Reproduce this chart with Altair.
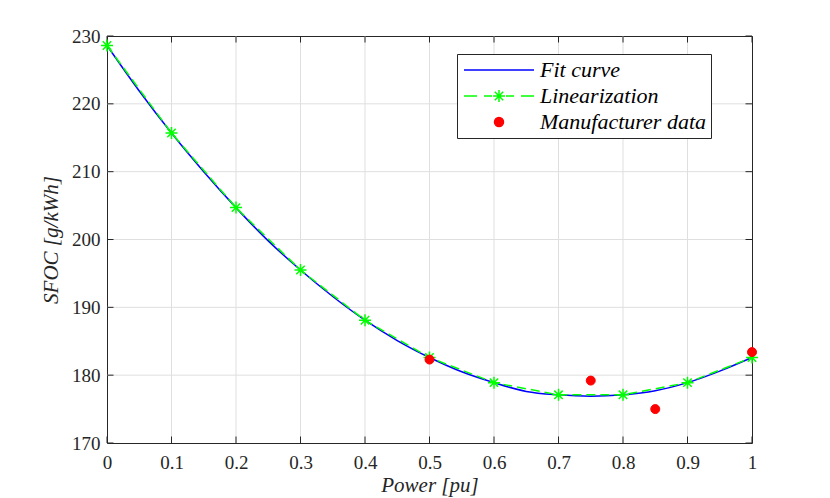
import altair as alt
import pandas as pd

# ---- data ----
fit_power = [0.0, 0.05, 0.1, 0.15, 0.2, 0.25, 0.3, 0.35, 0.4, 0.45, 0.5,
             0.55, 0.6, 0.65, 0.7, 0.75, 0.8, 0.85, 0.9, 0.95, 1.0]
fit_sfoc = [228.6, 221.9, 215.7, 210.0, 204.7, 199.8, 195.5, 191.6, 188.1, 185.1, 182.6,
            180.5, 178.9, 177.6, 177.1, 176.9, 177.1, 177.7, 178.9, 180.6, 182.6]

lin_power = [0.0, 0.1, 0.2, 0.3, 0.4, 0.5, 0.6, 0.7, 0.8, 0.9, 1.0]
lin_sfoc = [228.6, 215.7, 204.7, 195.5, 188.1, 182.6, 178.9, 177.1, 177.1, 178.9, 182.6]

mfr_power = [0.5, 0.75, 0.85, 1.0]
mfr_sfoc = [182.3, 179.2, 175.0, 183.4]

x_ticks = [0.0, 0.1, 0.2, 0.3, 0.4, 0.5, 0.6, 0.7, 0.8, 0.9, 1.0]
y_ticks = [170, 180, 190, 200, 210, 220, 230]

series_names = ["Fit curve", "Linearization", "Manufacturer data"]
series_colors = ["#0000ff", "#00ff00", "#ff0000"]

# ---- style ----
W, H = 645, 407
SERIF = "Liberation Serif, Times New Roman, serif"
INK = "#262626"
GRID = "#dfdfdf"
TICK_LEN = 6.5

fit_df = pd.DataFrame({"power": fit_power, "sfoc": fit_sfoc})
lin_df = pd.DataFrame({"power": lin_power, "sfoc": lin_sfoc})
mfr_df = pd.DataFrame({"power": mfr_power, "sfoc": mfr_sfoc,
                       "series": ["Manufacturer data"] * len(mfr_power)})
xt_df = pd.DataFrame({"t": x_ticks})
yt_df = pd.DataFrame({"t": y_ticks})
xg_df = pd.DataFrame({"t": x_ticks[1:-1]})
yg_df = pd.DataFrame({"t": y_ticks[1:-1]})

xs = alt.Scale(domain=[0, 1], nice=False, zero=False)
ys = alt.Scale(domain=[170, 230], nice=False, zero=False)

x_axis = alt.Axis(values=x_ticks, format=".1~f", title="Power [pu]", grid=False, domain=False,
                  ticks=False, tickSize=0, labelFont=SERIF, labelFontSize=19,
                  labelColor=INK, labelBaseline="alphabetic", labelPadding=25,
                  labelFlush=False, labelOverlap=False,
                  titleFont=SERIF, titleFontSize=21, titleFontStyle="italic",
                  titleFontWeight="normal", titleColor=INK,
                  titleBaseline="alphabetic", titleY=48)
y_axis = alt.Axis(values=y_ticks, format="d", title="SFOC [g/kWh]", grid=False, domain=False,
                  ticks=False, tickSize=0, labelFont=SERIF, labelFontSize=19,
                  labelColor=INK, labelPadding=7, labelFlush=False, labelOverlap=False,
                  titleFont=SERIF, titleFontSize=21, titleFontStyle="italic",
                  titleFontWeight="normal", titleColor=INK,
                  titleBaseline="alphabetic", titleAngle=270, titleX=-50, titleY=H / 2)

X = alt.X("power:Q", scale=xs, axis=x_axis)
Y = alt.Y("sfoc:Q", scale=ys, axis=y_axis)
XT = alt.X("t:Q", scale=xs, axis=x_axis)
YT = alt.Y("t:Q", scale=ys, axis=y_axis)

# grid
xgrid = alt.Chart(xg_df).mark_rule(color=GRID, strokeWidth=1).encode(
    x=XT, y=alt.value(0), y2=alt.value(H))
ygrid = alt.Chart(yg_df).mark_rule(color=GRID, strokeWidth=1).encode(
    y=YT, x=alt.value(0), x2=alt.value(W))

# inward ticks on all four sides
xt_bot = alt.Chart(xt_df).mark_rule(color=INK, strokeWidth=1).encode(
    x=XT, y=alt.value(H), y2=alt.value(H - TICK_LEN))
xt_top = alt.Chart(xt_df).mark_rule(color=INK, strokeWidth=1).encode(
    x=XT, y=alt.value(0), y2=alt.value(TICK_LEN))
yt_left = alt.Chart(yt_df).mark_rule(color=INK, strokeWidth=1).encode(
    y=YT, x=alt.value(0), x2=alt.value(TICK_LEN))
yt_right = alt.Chart(yt_df).mark_rule(color=INK, strokeWidth=1).encode(
    y=YT, x=alt.value(W), x2=alt.value(W - TICK_LEN))

fit_line = alt.Chart(fit_df).mark_line(color="#0000ff", strokeWidth=1.5,
                                       interpolate="monotone").encode(x=X, y=Y)

lin_line = alt.Chart(lin_df).mark_line(color="#00ff00", strokeWidth=1.5,
                                       strokeDash=[9, 5]).encode(x=X, y=Y)

star_path = "M-1,0L1,0M0,-1L0,1M-0.7,-0.7L0.7,0.7M-0.7,0.7L0.7,-0.7"
lin_stars = alt.Chart(lin_df).mark_point(shape=star_path, size=144, color="#00ff00",
                                         filled=False, strokeWidth=1.5, opacity=1).encode(
    x=X, y=Y)

fit_sym = "M-3.5,0L3.5,0"
lin_sym = ("M-3.5,0L-2.2,0M-1.5,0L-0.7,0M0.7,0L1.5,0M2.2,0L3.5,0"
           "M-0.6,0L0.6,0M0,-0.6L0,0.6M-0.42,-0.42L0.42,0.42M-0.42,0.42L0.42,-0.42")
dot_sym = "M-0.45,0A0.45,0.45,0,1,1,0.45,0A0.45,0.45,0,1,1,-0.45,0Z"

legend = alt.Legend(title=None, orient="none", legendX=350, legendY=18,
                    labelFont=SERIF, labelFontStyle="italic", labelFontSize=22,
                    labelColor="black", labelLimit=400, symbolSize=400,
                    symbolStrokeWidth=1.5, symbolOffset=26, labelOffset=30,
                    padding=5, rowPadding=4, strokeColor=INK, fillColor="white")

mfr_points = alt.Chart(mfr_df).mark_point(size=400, strokeWidth=1, opacity=1).encode(
    x=X, y=Y,
    stroke=alt.Stroke("series:N", scale=alt.Scale(domain=series_names, range=series_colors),
                      legend=legend),
    fill=alt.Fill("series:N", scale=alt.Scale(domain=series_names,
                                              range=["transparent", "transparent", "#ff0000"]),
                  legend=legend),
    shape=alt.Shape("series:N", scale=alt.Scale(domain=series_names,
                                                range=[fit_sym, lin_sym, dot_sym]),
                    legend=legend))

chart = alt.layer(xgrid, ygrid, xt_bot, xt_top, yt_left, yt_right,
                  fit_line, lin_line, lin_stars, mfr_points).properties(
    width=W, height=H,
    padding={"left": 99, "top": 28, "right": 20, "bottom": 60},
    autosize=alt.AutoSizeParams(type="none"),
    background="white",
).configure_view(stroke=INK, strokeWidth=1)

chart.save("out.html", embed_options={"renderer": "svg", "actions": False})
